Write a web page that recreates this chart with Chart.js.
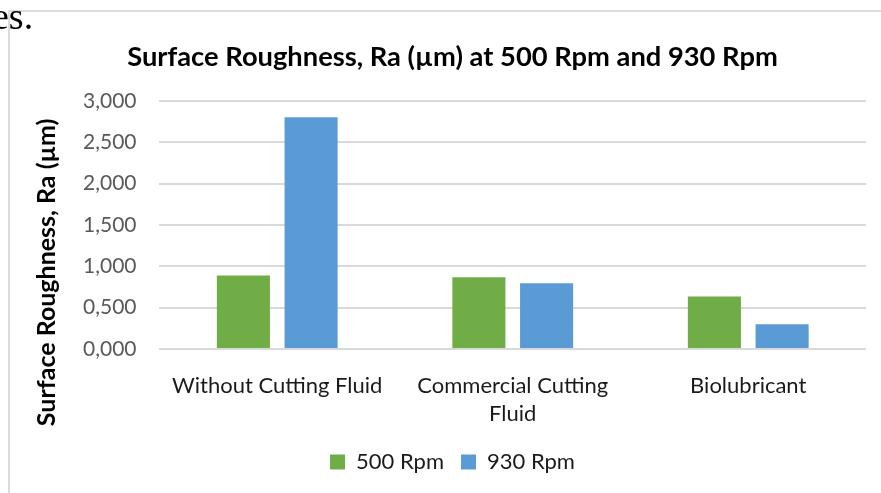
<!DOCTYPE html>
<html>
<head>
<meta charset="utf-8">
<script src="https://cdn.jsdelivr.net/npm/chart.js@4.4.1/dist/chart.umd.min.js"></script>
<style>
  html, body { margin: 0; padding: 0; background: #fff; width: 881px; height: 493px; overflow: hidden; }
  #wrap { position: absolute; left: 0; top: 0; width: 904px; height: 493px; }
  #frame { position: absolute; left: 8px; top: 10px; width: 900px; height: 500px; border-left: 2px solid #DCDCDC; border-top: 2px solid #DCDCDC; pointer-events: none; }
  #frag { position: absolute; left: -8px; top: -3px; font-family: "Liberation Serif", "Times New Roman", serif; font-size: 38px; color: #000; line-height: 1; }
</style>
</head>
<body>
<div id="wrap"><canvas id="c" width="904" height="493"></canvas></div>
<div id="frame"></div>
<div id="frag">es.</div>
<script>
const categories = ['Without Cutting Fluid', ['Commercial Cutting', 'Fluid'], 'Biolubricant'];
const series500 = [0.888, 0.867, 0.637];
const series930 = [2.800, 0.795, 0.299];
const seriesNames = ['500 Rpm', '930 Rpm'];
const yTickLabels = ['0,000', '0,500', '1,000', '1,500', '2,000', '2,500', '3,000'];
const chartTitle = 'Surface Roughness, Ra (\u00B5m) at 500 Rpm and 930 Rpm';
const yAxisTitle = 'Surface Roughness, Ra (\u00B5m)';

const FONT = 'Lato, "Open Sans", sans-serif';

// Axis title drawn beside the y axis, centred on the plot + category-label block (as in the original)
const yTitlePlugin = {
  id: 'yTitle',
  afterDraw(chart) {
    const { ctx, chartArea } = chart;
    const cy = (chartArea.top + chart.legend.top) / 2 + 5;
    ctx.save();
    ctx.translate(46.5, cy);
    ctx.rotate(-Math.PI / 2);
    ctx.font = 'bold 25px ' + FONT;
    ctx.fillStyle = '#000';
    ctx.textAlign = 'center';
    ctx.textBaseline = 'middle';
    ctx.fillText(yAxisTitle, 0, 0);
    ctx.restore();
  }
};

new Chart(document.getElementById('c'), {
  type: 'bar',
  data: {
    labels: categories,
    datasets: [
      { label: seriesNames[0], data: series500, backgroundColor: '#70AD47', categoryPercentage: 0.575, barPercentage: 0.784 },
      { label: seriesNames[1], data: series930, backgroundColor: '#5B9BD5', categoryPercentage: 0.575, barPercentage: 0.784 }
    ]
  },
  plugins: [yTitlePlugin],
  options: {
    responsive: false,
    animation: false,
    devicePixelRatio: 1,
    layout: { padding: { left: 39, right: 38, top: 0, bottom: 10 } },
    plugins: {
      title: {
        display: true,
        text: chartTitle,
        color: '#000',
        font: { family: FONT, size: 27.3, weight: 'bold' },
        padding: { top: 41, bottom: 27 }
      },
      legend: {
        position: 'bottom',
        labels: {
          color: '#1a1a1a',
          font: { family: FONT, size: 22 },
          boxWidth: 15,
          boxHeight: 15,
          padding: 17
        }
      },
      tooltip: { enabled: false }
    },
    scales: {
      x: {
        grid: { display: false },
        border: { display: false },
        ticks: { color: '#1a1a1a', font: { family: FONT, size: 22, lineHeight: 1.27 }, padding: 15, maxRotation: 0 },
        afterFit: (scale) => { scale.height -= 9; }
      },
      y: {
        min: 0,
        max: 3,
        grid: { color: '#D9D9D9', lineWidth: 2, drawTicks: false },
        border: { display: false },
        ticks: {
          stepSize: 0.5,
          color: '#595959',
          font: { family: FONT, size: 21 },
          padding: 23,
          callback: (v, i) => yTickLabels[i]
        },
        afterFit: (scale) => { scale.width += 21; }
      }
    }
  }
});
</script>
</body>
</html>
